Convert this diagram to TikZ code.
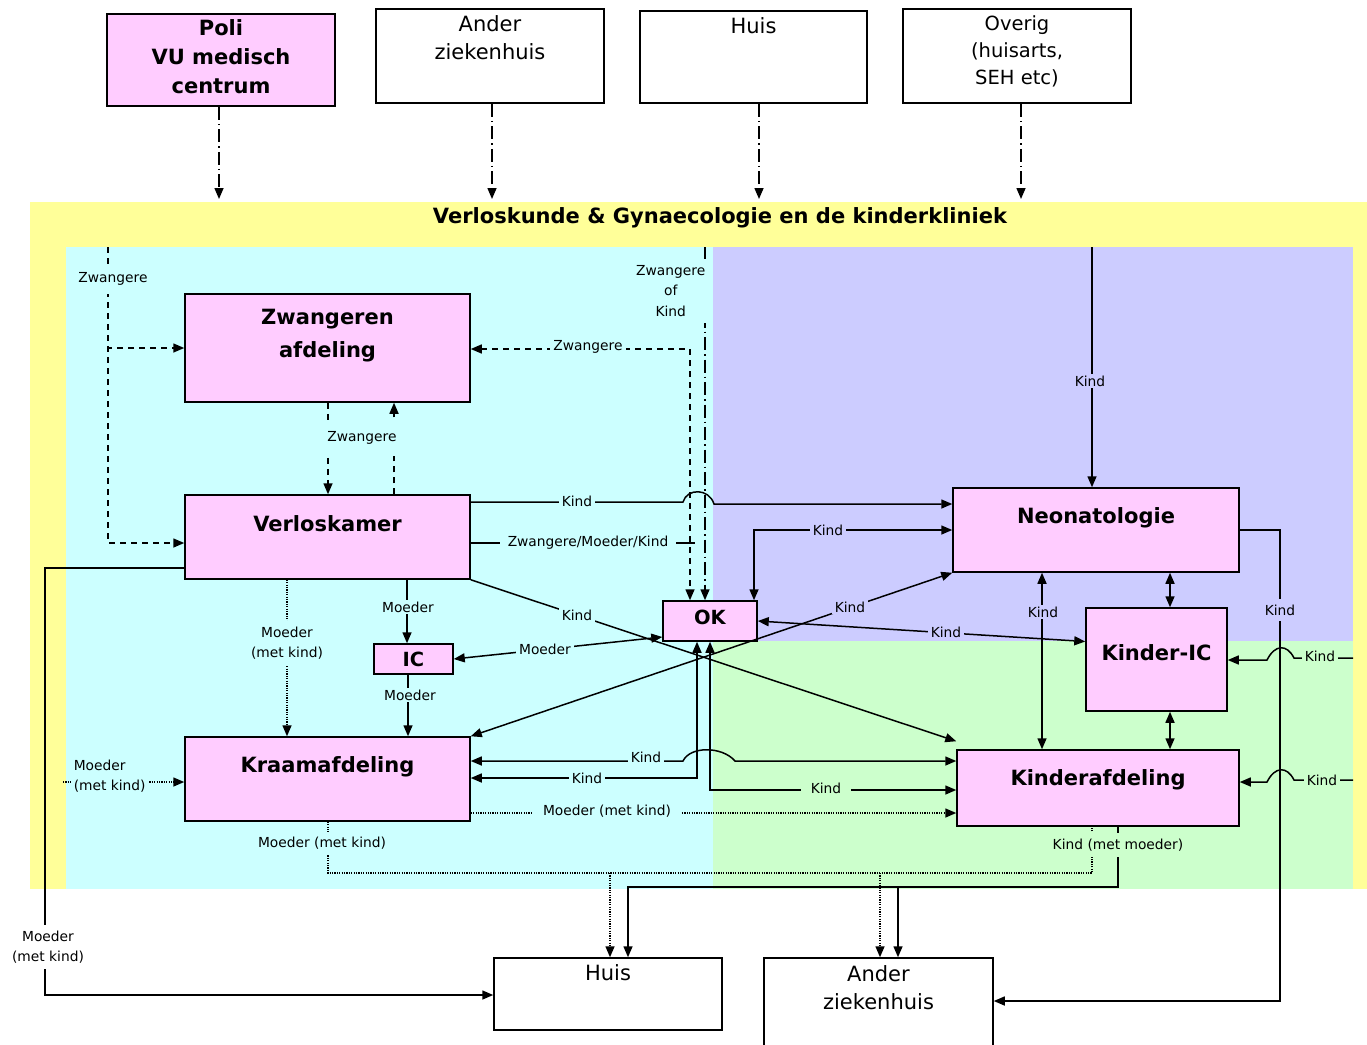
\documentclass[tikz,border=0pt]{standalone}
\usepackage{fontspec}
\setmainfont{DejaVu Sans}
\usepackage{graphicx}
\usetikzlibrary{arrows.meta}
\definecolor{bgyellow}{HTML}{FFFF99}
\definecolor{bgcyan}{HTML}{CCFFFF}
\definecolor{bglav}{HTML}{CCCCFF}
\definecolor{bggreen}{HTML}{CCFFCC}
\definecolor{boxpink}{HTML}{FFCCFF}
\newcommand{\myfsmall}{\fontsize{13.8}{20.5}\selectfont}
\newcommand{\myfbold}{\bfseries\fontsize{21}{33}\selectfont}
\newcommand{\myfboldP}{\bfseries\fontsize{21}{29}\selectfont}
\newcommand{\myfreg}{\fontsize{21}{28}\selectfont}
\newcommand{\myfregO}{\fontsize{19.5}{27}\selectfont}
\newcommand{\myfmid}{\bfseries\fontsize{19.5}{24}\selectfont}
\newcommand{\myftitle}{\bfseries\fontsize{21}{25}\selectfont}
\begin{document}
\begin{tikzpicture}[x=1pt,y=-1pt,line width=1.5pt,
  >={Triangle[length=11pt,width=9pt]},
  box/.style={draw,line width=1.5pt,fill=boxpink,inner sep=0pt},
  wbox/.style={draw,line width=1.5pt,fill=white,inner sep=0pt},
  btxt/.style={font=\myfbold,align=center,inner sep=0pt},
  ptxt/.style={font=\myfboldP,align=center,inner sep=0pt},
  mtxt/.style={font=\myfmid,align=center,inner sep=0pt},
  rtxt/.style={font=\myfreg,align=center,inner sep=0pt},
  lbl/.style={font=\myfsmall,align=center,inner xsep=3pt,inner ysep=2pt},
  lC/.style={lbl,fill=bgcyan},
  lL/.style={lbl,fill=bglav},
  lG/.style={lbl,fill=bggreen},
  lW/.style={lbl,fill=white},
  lnDash/.style={dash pattern=on 6pt off 5pt},
  lnDD/.style={dash pattern=on 13pt off 4pt on 1.5pt off 4pt},
  lnDot/.style={dash pattern=on 1.2pt off 1.2pt}]
\useasboundingbox (0,0) rectangle (1367,1044);
% backgrounds
\fill[bgyellow] (30,202) rectangle (1367,889);
\fill[bgcyan] (66,247) rectangle (713,889);
\fill[bglav] (713,247) rectangle (1353,641);
\fill[bggreen] (713,641) rectangle (1353,889);
\node[font=\myftitle] (title) at (720,218) {Verloskunde \& Gynaecologie en de kinderkliniek};

% top boxes
\node[box,minimum width=228pt,minimum height=92pt] (poli) at (221,60) {};
\node[ptxt] (polit) at (221,57) {Poli\\VU medisch\\centrum};
\node[wbox,minimum width=228pt,minimum height=94pt] (anz) at (490,56) {};
\node[rtxt] (anzt) at (490,38) {Ander\\ziekenhuis};
\node[wbox,minimum width=227pt,minimum height=92pt] (huis) at (753.5,57) {};
\node[rtxt] (huist) at (753.5,26) {Huis};
\node[wbox,minimum width=228pt,minimum height=94pt] (ovr) at (1017,56) {};
\node[rtxt,font=\myfregO] (ovrt) at (1017,51) {Overig\\(huisarts,\\SEH etc)};

\coordinate (a1) at (219,199);
\coordinate (a2) at (492,199);
\coordinate (a3) at (759,199);
\coordinate (a4) at (1021,199);
\draw[lnDD,->] (poli.south -| a1) -- (a1);
\draw[lnDD,->] (anz.south -| a2) -- (a2);
\draw[lnDD,->] (huis.south -| a3) -- (a3);
\draw[lnDD,->] (ovr.south -| a4) -- (a4);

% main boxes
\node[box,minimum width=285pt,minimum height=108pt] (za) at (327.5,348) {};
\node[box,minimum width=285pt,minimum height=84pt] (vk) at (327.5,537) {};
\node[box,minimum width=94pt,minimum height=40pt] (ok) at (710,621) {};
\node[box,minimum width=79pt,minimum height=30pt] (ic) at (413.5,659) {};
\node[box,minimum width=285pt,minimum height=84pt] (kr) at (327.5,779) {};
\node[box,minimum width=286pt,minimum height=84pt] (neo) at (1096,530) {};
\node[box,minimum width=141pt,minimum height=103pt] (kic) at (1156.5,659.5) {};
\node[box,minimum width=282pt,minimum height=76pt] (ka) at (1098,788) {};
\node[wbox,minimum width=228pt,minimum height=72pt] (hb) at (608,994) {};
\node[wbox,minimum width=229pt,minimum height=94pt] (azb) at (878.5,1005) {};

\node[btxt] (zat) at (327.5,336) {Zwangeren\\afdeling};
\node[btxt] (vkt) at (327.5,524) {Verloskamer};
\node[mtxt] (okt) at (710,617) {OK};
\node[mtxt] (ict) at (413.5,659) {IC};
\node[btxt] (krt) at (327.5,767) {Kraamafdeling};
\node[btxt] (neot) at (1096,518) {Neonatologie};
\node[btxt] (kict) at (1156.5,653) {Kinder-IC};
\node[btxt] (kat) at (1098,780) {Kinderafdeling};
\node[rtxt] (hbt) at (608,973) {Huis};
\node[rtxt] (azbt) at (878.5,988) {Ander\\ziekenhuis};

% ---- connectors
% entry dashed
\coordinate (zin) at (108,247);
\coordinate (zb2) at (108,543);
\draw[lnDash,->] (zin) |- (za.west);
\draw[lnDash,->] (zin) -- (zb2) -- (zb2 -| vk.west);
% zwangere of kind
\coordinate (zk) at (705,247);
\draw[lnDD,->] (zk) -- (zk |- ok.north);
% zwangere to OK / ZA
\coordinate (zt) at (690,349);
\draw[lnDash,<->] (za.east |- zt) -- (zt) -- (zt |- ok.north);
% ZA <-> VK
\coordinate (zv1) at (328,0);
\coordinate (zv2) at (394,0);
\draw[lnDash,->] (za.south -| zv1) -- (vk.north -| zv1);
\draw[lnDash,->] (vk.north -| zv2) -- (za.south -| zv2);
% VK -> NEO with hop
\coordinate (h1a) at (683,502);
\coordinate (h1b) at (714,504);
\draw[->] (vk.east |- h1a) -- (h1a) .. controls (687,488) and (709,488) .. (h1b) -- (neo.west |- h1b);
% VK -> OK
\coordinate (zmk) at (695,543);
\draw (vk.east |- zmk) -- (zmk);
% VK -> KA diagonal
\draw[->] (vk.south east) -- ([yshift=8pt]ka.north west);
% VK -> IC -> KR
\coordinate (vi) at (407,0);
\draw[->] (vk.south -| vi) -- (ic.north -| vi);
\coordinate (vi2) at (408,0);
\draw[->] (ic.south -| vi2) -- (kr.north -| vi2);
% VK -> KR dotted
\coordinate (c287) at (287,0);
\draw[lnDot,->] (vk.south -| c287) -- (kr.north -| c287);
% OK <-> IC
\draw[<->] (ic.east) -- ([yshift=-16pt]ok.west);
% OK <-> KIC
\draw[<->] (ok.east) -- ([yshift=18pt]kic.west);
% KR <-> NEO
\draw[<->] (kr.north east) -- (neo.south west);
% NEO <-> OK
\coordinate (no) at (754,0);
\draw[<->] (neo.west) -| (ok.north -| no);
% top Kind
\coordinate (tk) at (1092,247);
\draw[->] (tk) -- (tk |- neo.north);
% verticals right
\coordinate (c1170) at (1170,0);
\draw[<->] (neo.south -| c1170) -- (kic.north -| c1170);
\draw[<->] (kic.south -| c1170) -- (ka.north -| c1170);
\coordinate (c1042) at (1042,0);
\draw[<->] (neo.south -| c1042) -- (ka.north -| c1042);
% NEO -> AZB
\coordinate (rkb) at (1280,1001);
\draw[->] (neo.east) -| (rkb) -- (rkb -| azb.east);
% right Kind -> KIC / KA
\coordinate (r1) at (1353,658);
\coordinate (r1h) at (1267,660);
\draw[->] (r1) -- (1294,658) .. controls (1287,644) and (1275,644) .. (r1h) -- (r1h -| kic.east);
\coordinate (r2) at (1353,780);
\coordinate (r2h) at (1267,782);
\draw[->] (r2) -- (1294,780) .. controls (1287,766) and (1275,766) .. (r2h) -- (r2h -| ka.east);
% OK <-> KR, OK <-> KA
\coordinate (k697) at (697,778);
\draw[<->] (ok.south -| k697) |- (kr.east |- k697);
\coordinate (k710) at (710,790);
\draw[<->] (ok.south -| k710) |- (ka.west |- k710);
% KR <-> KA with hop
\coordinate (h2a) at (683,761);
\coordinate (h2b) at (735,761);
\draw[<->] (kr.east |- h2a) -- (h2a) .. controls (690,746) and (722,746) .. (h2b) -- (ka.west |- h2b);
% KR -> KA dotted
\coordinate (d813) at (0,813);
\draw[lnDot,->] (kr.east |- d813) -- (ka.west |- d813);
% left into KR
\coordinate (lm) at (63,782);
\draw[lnDot,->] (lm) -- (kr.west |- lm);
% bottom dotted
\coordinate (bd1) at (328,873);
\coordinate (bd2) at (1092,873);
\coordinate (bd3) at (610,873);
\coordinate (bd4) at (880,873);
\draw[lnDot] (kr.south -| bd1) -- (bd1) -- (bd2) -- (ka.south -| bd2);
\draw[lnDot,->] (bd3) -- (hb.north -| bd3);
\draw[lnDot,->] (bd4) -- (azb.north -| bd4);
% bottom solid
\coordinate (bs1) at (1118,887);
\coordinate (bs2) at (628,887);
\coordinate (bs3) at (898,887);
\draw[->] (ka.south -| bs1) -- (bs1) -| (hb.north -| bs2);
\draw[->] (bs3) -- (azb.north -| bs3);
% VK -> HB
\coordinate (lv) at (45,568);
\coordinate (lv2) at (45,995);
\draw[->] (vk.west |- lv) -- (lv) -- (lv2) -- (lv2 -| hb.west);

% ---- labels
\node[lC,inner ysep=9pt] (L1) at (113,279) {Zwangere};
\node[lC,anchor=east,inner ysep=6pt] (L2) at (709,291) {Zwangere\\of\\Kind};
\node[lC] (L3) at (588,347) {Zwangere};
\node[lC,inner ysep=12pt] (L4) at (362,438) {Zwangere};
\node[lC] (L5) at (577,501) {Kind};
\node[lC,inner xsep=8pt] (L6) at (588,543) {Zwangere/Moeder/Kind};
\node[lC] (L7) at (577,615) {Kind};
\node[lC] (L8) at (408,607) {Moeder};
\node[lC] (L9) at (410,695) {Moeder};
\node[lC,inner ysep=6pt] (L10) at (287,643) {Moeder\\(met kind)};
\node[lC] (L11) at (545,649) {Moeder};
\node[lL] (L12) at (946,632) {Kind};
\node[lL] (L13) at (850,607) {Kind};
\node[lL] (L14) at (828,530) {Kind};
\node[lL] (L15) at (1090,381) {Kind};
\node[lL] (L16) at (1043,612) {Kind};
\node[lL,inner ysep=6pt] (L17) at (1280,610) {Kind};
\node[lG] (L18) at (1320,656) {Kind};
\node[lG] (L19) at (1322,780) {Kind};
\node[lC] (L20) at (587,778) {Kind};
\node[lG,inner xsep=10pt] (L21) at (826,788) {Kind};
\node[lC] (L22) at (646,757) {Kind};
\node[lC,inner xsep=10pt] (L23) at (607,811) {Moeder (met kind)};
\node[lC,anchor=west,align=left] (L24) at (70,776) {Moeder\\(met kind)};
\node[lC,inner ysep=5pt] (L25) at (322,843) {Moeder (met kind)};
\node[lG,inner ysep=6pt] (L26) at (1118,845) {Kind (met moeder)};
\node[lW,inner ysep=6pt] (L27) at (48,947) {Moeder\\(met kind)};
\end{tikzpicture}
\end{document}
